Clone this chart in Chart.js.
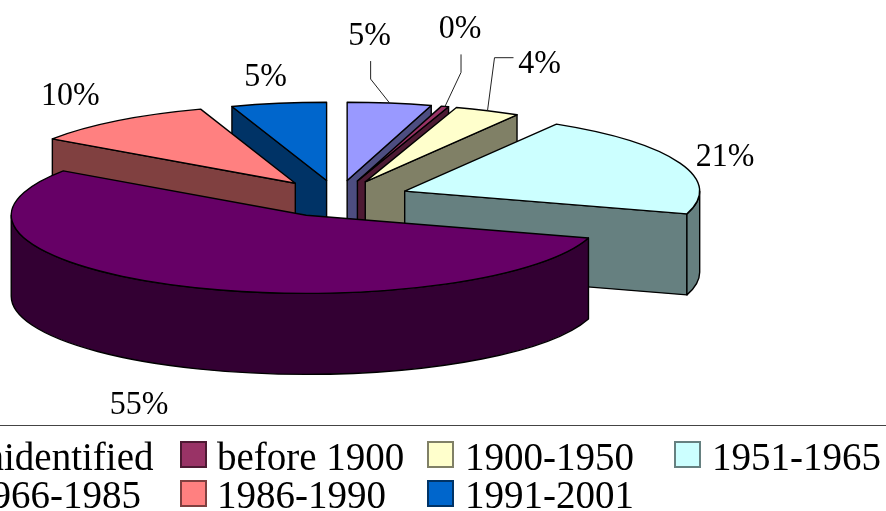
<!DOCTYPE html>
<html>
<head>
<meta charset="utf-8">
<title>Pie</title>
<style>
  html, body { margin: 0; padding: 0; background: #fff; overflow: hidden; }
  canvas { display: block; }
</style>
<script src="https://cdn.jsdelivr.net/npm/chart.js@4/dist/chart.umd.min.js"></script>
</head>
<body>
<canvas id="pie" width="886" height="511"></canvas>
<script>
const labels = ["unidentified", "before 1900", "1900-1950", "1951-1965", "1966-1985", "1986-1990", "1991-2001"];
const values = [4.6, 0.4, 3.6, 21.1, 54.9, 10.2, 5.2];
const colors = ["#9999ff", "#993366", "#ffffcc", "#ccffff", "#660066", "#ff8080", "#0066cc"];
const wallColors = ["#4d4d80", "#4d1a33", "#808066", "#668080", "#330033", "#804040", "#003366"];

// how far each slice is pulled out of the pie
const explode = [67, 67, 67, 72, 72, 70, 67];
// label offset from the slice's rim middle
const labelOffsets = [[-20, -69], [15, -79], [52, -49], [45, -8], [-39, 117], [-47, -27], [-13, -28]];
const leaders = [true, true, true, false, false, false, false];

// legend layout, it runs off the left edge like the source
const swatchX = [-67, 181, 428, 675, -67, 181, 428];
const legendTextX = [-35, 217, 465, 712, -28, 217, 465];

const PIE_X = 337.5, PIE_Y = 198;
const RX = 295, TILT = 0.265, DEPTH = 81;
const total = values.reduce((a, b) => a + b, 0);

function sliceGeom(arc, i) {
  const scale = RX / arc.outerRadius;
  const mid = (arc.startAngle + arc.endAngle) / 2;
  const cx = PIE_X + Math.cos(mid) * explode[i];
  const cy = PIE_Y + Math.sin(mid) * explode[i] * TILT;
  return { scale, mid, cx, cy };
}

function drawWalls(ctx, arc, i) {
  const { cx, cy } = sliceGeom(arc, i);
  const a = arc.startAngle, b = arc.endAngle;
  ctx.fillStyle = wallColors[i];

  const radial = t => {
    const x = cx + Math.cos(t) * RX, y = cy + Math.sin(t) * RX * TILT;
    ctx.beginPath();
    ctx.moveTo(cx, cy);
    ctx.lineTo(x, y);
    ctx.lineTo(x, y + DEPTH);
    ctx.lineTo(cx, cy + DEPTH);
    ctx.closePath();
    ctx.fill();
    ctx.stroke();
  };
  if (Math.cos(a) < 0) radial(a);
  if (Math.cos(b) > 0) radial(b);

  // outer skin, only the part that faces the viewer
  const t0 = Math.max(a, 0), t1 = Math.min(b, Math.PI);
  if (t1 > t0) {
    ctx.beginPath();
    ctx.ellipse(cx, cy, RX, RX * TILT, 0, t0, t1);
    ctx.ellipse(cx, cy + DEPTH, RX, RX * TILT, 0, t1, t0, true);
    ctx.closePath();
    ctx.fill();
    ctx.stroke();
  }
}

const tiltedPie = {
  id: "tiltedPie",
  beforeDatasetsDraw(chart) {
    const ctx = chart.ctx;
    const arcs = chart.getDatasetMeta(0).data.map((arc, i) => ({ arc, i }));
    // back slices first
    arcs.sort((p, q) => sliceGeom(p.arc, p.i).cy - sliceGeom(q.arc, q.i).cy);

    ctx.save();
    ctx.lineWidth = 1.4;
    ctx.strokeStyle = "#000";
    ctx.lineJoin = "round";
    arcs.forEach(({ arc, i }) => {
      drawWalls(ctx, arc, i);
      const { scale, cx, cy } = sliceGeom(arc, i);

      ctx.save();
      ctx.translate(cx, cy);
      ctx.scale(scale, scale * TILT);
      ctx.translate(-arc.x, -arc.y);
      arc.draw(ctx);
      ctx.beginPath();
      ctx.moveTo(arc.x, arc.y);
      ctx.arc(arc.x, arc.y, arc.outerRadius, arc.startAngle, arc.endAngle);
      ctx.closePath();
      ctx.restore();
      ctx.stroke();
    });
    ctx.restore();
    return false;
  },
  afterDraw(chart) {
    const ctx = chart.ctx;
    const arcs = chart.getDatasetMeta(0).data;
    ctx.save();
    ctx.fillStyle = "#000";
    ctx.strokeStyle = "#222";
    ctx.lineWidth = 1;
    ctx.textAlign = "center";
    ctx.font = '32px "Liberation Serif"';
    arcs.forEach((arc, i) => {
      const { cx, cy, mid } = sliceGeom(arc, i);
      const rimX = cx + Math.cos(mid) * RX, rimY = cy + Math.sin(mid) * RX * TILT;
      const x = rimX + labelOffsets[i][0], y = rimY + labelOffsets[i][1];

      // source text is a bit taller than the plain font
      ctx.save();
      ctx.translate(x, y + 11);
      ctx.scale(1, 1.08);
      ctx.fillText(Math.round(values[i] / total * 100) + "%", 0, 0);
      ctx.restore();

      if (leaders[i]) {
        ctx.beginPath();
        if (i === 2) {
          ctx.moveTo(x - 26, y - 4);
          ctx.lineTo(x - 45, y - 4);
        } else {
          ctx.moveTo(x + 1, y + 27);
          ctx.lineTo(x + 1, y + 45);
        }
        ctx.lineTo(rimX, rimY);
        ctx.stroke();
      }
    });

    ctx.strokeStyle = "#444";
    ctx.beginPath();
    ctx.moveTo(0, 425.5);
    ctx.lineTo(886, 425.5);
    ctx.stroke();

    const swatchY = [442, 481], textY = [470, 508];
    ctx.font = '39px "Liberation Serif"';
    ctx.textAlign = "left";
    labels.forEach((name, i) => {
      const row = Math.floor(i / 4);
      ctx.fillStyle = colors[i];
      ctx.strokeStyle = wallColors[i];
      ctx.lineWidth = 2;
      ctx.fillRect(swatchX[i], swatchY[row], 25, 25);
      ctx.strokeRect(swatchX[i], swatchY[row], 25, 25);
      ctx.fillStyle = "#000";
      ctx.fillText(name, legendTextX[i], textY[row]);
    });
    ctx.restore();
  }
};

new Chart(document.getElementById("pie"), {
  type: "pie",
  data: {
    labels: labels,
    datasets: [{
      data: values,
      backgroundColor: colors,
      borderWidth: 0
    }]
  },
  options: {
    responsive: false,
    animation: false,
    plugins: {
      legend: { display: false },
      tooltip: { enabled: false }
    }
  },
  plugins: [tiltedPie]
});
</script>
</body>
</html>
